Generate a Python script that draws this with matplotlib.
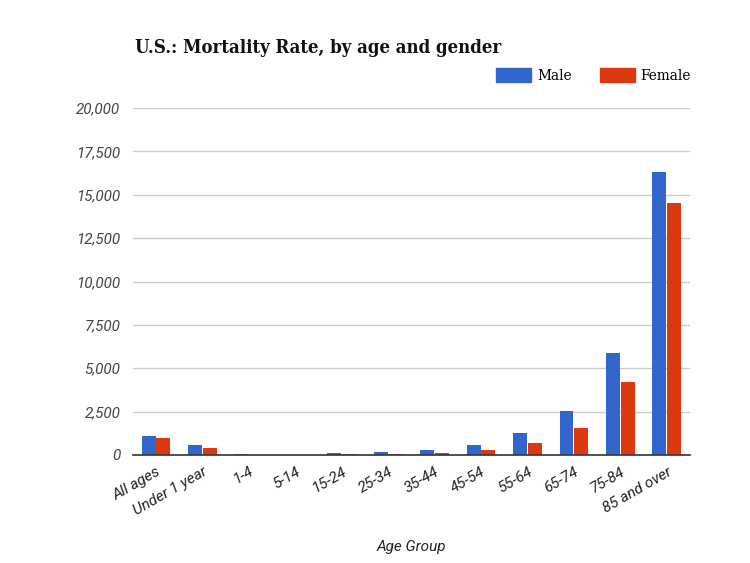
import numpy as np
import matplotlib
matplotlib.use('Agg')
import matplotlib.pyplot as plt
from matplotlib.patches import Patch

groups = ['All ages', 'Under 1 year', '1-4', '5-14', '15-24', '25-34', '35-44',
          '45-54', '55-64', '65-74', '75-84', '85 and over']
male = [1066, 543, 28, 15, 130, 194, 310, 543, 1290, 2538, 5885, 16320]
female = [950, 426, 23, 12, 60, 78, 136, 310, 705, 1558, 4212, 14530]
yticks = [0, 2500, 5000, 7500, 10000, 12500, 15000, 17500, 20000]

blue = '#3366cc'
red = '#dc3912'

fig = plt.figure(figsize=(7.5, 5.63), dpi=100)
ax = fig.add_axes([0.177, 0.192, 0.743, 0.616])

x = np.arange(len(groups))
w = 0.3
ax.bar(x - 0.16, male, w, color=blue, zorder=3)
ax.bar(x + 0.16, female, w, color=red, zorder=3)

ax.set_xlim(-0.5, len(groups) - 0.5)
ax.set_ylim(0, 20000)
ax.set_yticks(yticks)
ax.set_yticklabels(['{:,}'.format(v) for v in yticks], fontstyle='italic',
                   fontsize=11, color='#444444', family='Roboto')
ax.set_xticks(x)
ax.set_xticklabels(groups, rotation=30, ha='right', rotation_mode='anchor',
                   fontstyle='italic', fontsize=11, color='#222222', family='Roboto')
ax.tick_params(axis='y', length=0, pad=9)
ax.tick_params(axis='x', length=0, pad=7)
ax.grid(axis='y', color='#cccccc', linewidth=1, zorder=0)
for s in ['top', 'right', 'left']:
    ax.spines[s].set_visible(False)
ax.spines['bottom'].set_color('#333333')
ax.spines['bottom'].set_linewidth(1.2)
ax.spines['bottom'].set_zorder(4)

ax.set_xlabel('Age Group', fontstyle='italic', fontsize=11, color='#222222',
              family='Roboto', labelpad=16)

fig.text(0.18, 0.915, 'U.S.: Mortality Rate, by age and gender', fontsize=13.3,
         fontweight='bold', family='DejaVu Serif', fontstretch='condensed',
         color='#111111', va='center')

handles = [Patch(color=blue, label='Male'), Patch(color=red, label='Female')]
leg = fig.legend(handles=handles, loc='center right', bbox_to_anchor=(0.94, 0.866),
                 ncol=2, frameon=False, handlelength=2.3, handleheight=1.0,
                 handletextpad=0.4, columnspacing=1.8,
                 prop={'family': 'DejaVu Serif', 'stretch': 'condensed', 'size': 11})

fig.savefig('out.png', dpi=100, facecolor='white')
